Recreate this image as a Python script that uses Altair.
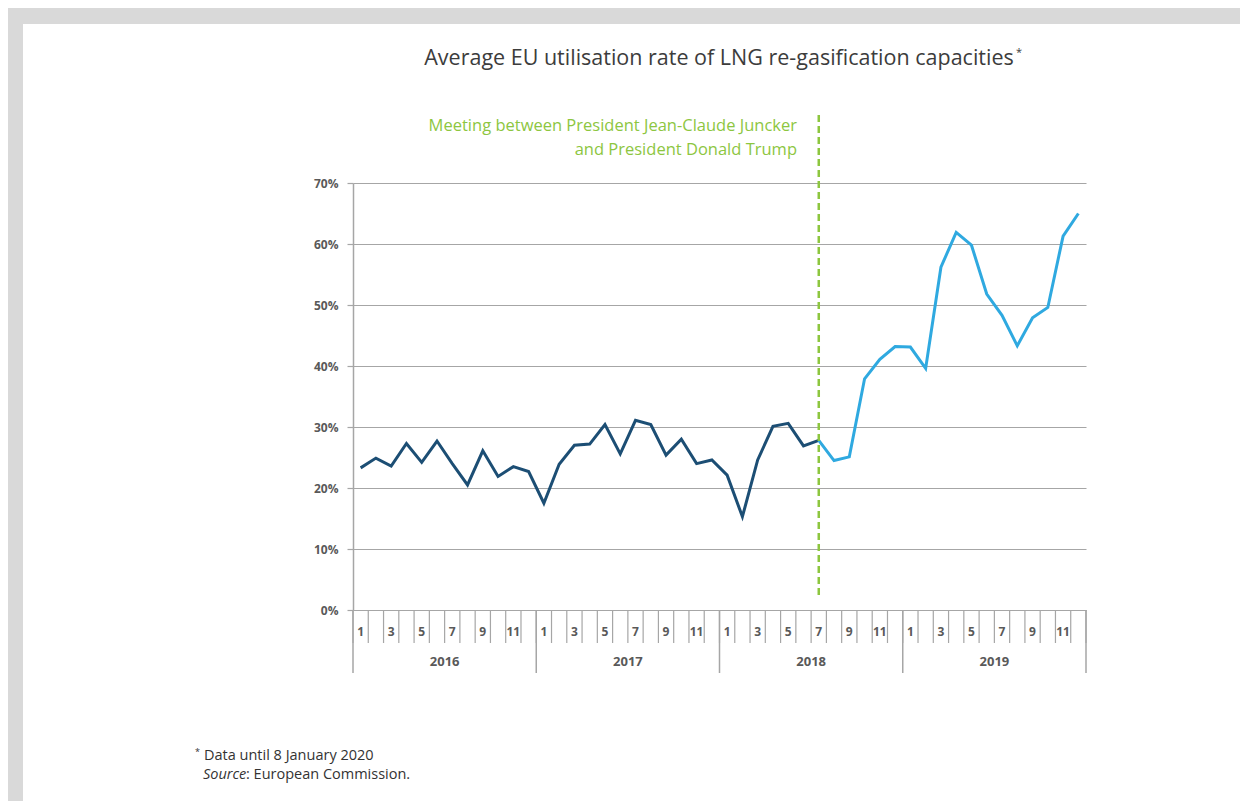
import altair as alt
import pandas as pd

# ---- data ----
years = ["2016", "2017", "2018", "2019"]
rate_2016 = [23.3, 24.9, 23.6, 27.3, 24.2, 27.7, 24.0, 20.5, 26.1, 21.9, 23.5, 22.7]
rate_2017 = [17.5, 23.9, 27.0, 27.2, 30.4, 25.6, 31.1, 30.4, 25.4, 28.0, 24.0, 24.6]
rate_2018 = [22.1, 15.3, 24.6, 30.1, 30.6, 26.9, 27.8, 24.5, 25.1, 37.9, 41.1, 43.2]
rate_2019 = [43.1, 39.6, 56.2, 61.9, 59.8, 51.8, 48.3, 43.3, 47.9, 49.6, 61.3, 65.0]
event_year = "2018"
event_month = 7
y_ticks = [0, 0.1, 0.2, 0.3, 0.4, 0.5, 0.6, 0.7]

title_text = "Average EU utilisation rate of LNG re-gasification capacities"
event_line1 = "Meeting between President Jean-Claude Juncker"
event_line2 = "and President Donald Trump"
foot1 = "Data until 8 January 2020"
foot_src = "Source"
foot_rest = ": European Commission."

# ---- build tables ----
all_rates = rate_2016 + rate_2017 + rate_2018 + rate_2019
event_idx = years.index(event_year) * 12 + (event_month - 1)
rows = []
for i, v in enumerate(all_rates):
    if i <= event_idx:
        rows.append({"pos": i + 0.5, "rate": v / 100, "seg": "before"})
    if i >= event_idx:
        rows.append({"pos": i + 0.5, "rate": v / 100, "seg": "after"})
df = pd.DataFrame(rows)

n = len(all_rates)
month_df = pd.DataFrame(
    [{"pos": i + 0.5, "lab": str(i % 12 + 1)} for i in range(n) if (i % 12 + 1) % 2 == 1]
)
edge_df = pd.DataFrame({"pos": list(range(n + 1))})
year_edge_df = pd.DataFrame({"pos": [k * 12 for k in range(len(years) + 1)]})
year_df = pd.DataFrame({"pos": [k * 12 + 6 for k in range(len(years))], "lab": years})
event_df = pd.DataFrame({"pos": [event_idx + 0.5]})
one = pd.DataFrame({"a": [0]})

FONT = "Open Sans"
GRAY_TXT = "#595959"
GRID = "#a6a6a6"

xs = alt.Scale(domain=[0, n], nice=False, zero=False)
ys = alt.Scale(domain=[0, 0.7], nice=False)

base_x = alt.X("pos:Q", scale=xs, axis=None)

# frame (gray borders around white panel)
BG = "#d9d9d9"
top_band = alt.Chart(one).mark_rect(color=BG).encode(
    x=alt.value(-345), x2=alt.value(895), y=alt.value(-175), y2=alt.value(-159))
left_band = alt.Chart(one).mark_rect(color=BG).encode(
    x=alt.value(-345), x2=alt.value(-330), y=alt.value(-175), y2=alt.value(620))
right_band = alt.Chart(one).mark_rect(color=BG).encode(
    x=alt.value(887), x2=alt.value(895), y=alt.value(-175), y2=alt.value(620))

lines = alt.Chart(df).mark_line(strokeWidth=3, strokeJoin="miter").encode(
    x=base_x,
    y=alt.Y(
        "rate:Q",
        scale=ys,
        axis=alt.Axis(
            values=y_ticks, format=".0%", title=None, grid=True, gridColor=GRID,
            gridWidth=1.2, domainColor=GRID, domainWidth=1.5, tickColor=GRID,
            tickSize=6, tickWidth=1.2, labelFont=FONT, labelFontWeight="bold",
            labelFontSize=12, labelColor=GRAY_TXT, labelPadding=9,
        ),
    ),
    color=alt.Color("seg:N", scale=alt.Scale(domain=["before", "after"],
                                             range=["#1c4e74", "#2fa9e0"]), legend=None),
    detail="seg:N",
)

month_ticks = alt.Chart(edge_df).mark_rule(color=GRID, strokeWidth=1.2).encode(
    x=base_x, y=alt.value(427), y2=alt.value(460))
year_ticks = alt.Chart(year_edge_df).mark_rule(color=GRID, strokeWidth=1.5).encode(
    x=base_x, y=alt.value(427), y2=alt.value(490))
month_labels = alt.Chart(month_df).mark_text(
    font=FONT, fontSize=12, fontWeight="bold", color=GRAY_TXT, baseline="middle"
).encode(x=base_x, y=alt.value(449), text="lab:N")
year_labels = alt.Chart(year_df).mark_text(
    font=FONT, fontSize=13, fontWeight="bold", color=GRAY_TXT, baseline="middle"
).encode(x=base_x, y=alt.value(479), text="lab:N")

event_rule = alt.Chart(event_df).mark_rule(
    color="#8dc63f", strokeWidth=2.5, strokeDash=[7, 4]
).encode(x=base_x, y=alt.value(-68), y2=alt.value(415))

ev1 = alt.Chart(one).mark_text(
    text=event_line1, font=FONT, fontSize=16.5, color="#8dc63f", align="right", baseline="middle"
).encode(x=alt.value(444), y=alt.value(-57))
ev2 = alt.Chart(one).mark_text(
    text=event_line2, font=FONT, fontSize=16.5, color="#8dc63f", align="right", baseline="middle"
).encode(x=alt.value(444), y=alt.value(-33))

title = alt.Chart(one).mark_text(
    text=title_text, font=FONT, fontSize=21.5, color="#3c3c3c", align="center", baseline="middle"
).encode(x=alt.value(366), y=alt.value(-124))
title_star = alt.Chart(one).mark_text(
    text="*", font=FONT, fontSize=11, color="#3c3c3c", align="left", baseline="middle"
).encode(x=alt.value(663), y=alt.value(-130))

f_star = alt.Chart(one).mark_text(
    text="*", font=FONT, fontSize=9, color="#333333", align="left", baseline="middle"
).encode(x=alt.value(-158), y=alt.value(569))
f1 = alt.Chart(one).mark_text(
    text=foot1, font=FONT, fontSize=14.5, color="#333333", align="left", baseline="middle"
).encode(x=alt.value(-149), y=alt.value(573))
f2 = alt.Chart(one).mark_text(
    text=foot_src, font=FONT, fontSize=14.5, fontStyle="italic", color="#333333",
    align="left", baseline="middle"
).encode(x=alt.value(-150), y=alt.value(592))
f3 = alt.Chart(one).mark_text(
    text=foot_rest, font=FONT, fontSize=14.5, color="#333333", align="left", baseline="middle"
).encode(x=alt.value(-107), y=alt.value(592))

chart = alt.layer(
    top_band, left_band, right_band,
    month_ticks, year_ticks, month_labels, year_labels,
    lines, event_rule, ev1, ev2, title, title_star, f_star, f1, f2, f3,
).properties(
    width=733, height=427,
    padding={"left": 345, "top": 175, "right": 154, "bottom": 191},
    autosize=alt.AutoSizeParams(type="none"),
    background="white",
).configure_view(stroke=None)

chart.save("out.html", embed_options={"renderer": "svg", "actions": False})
